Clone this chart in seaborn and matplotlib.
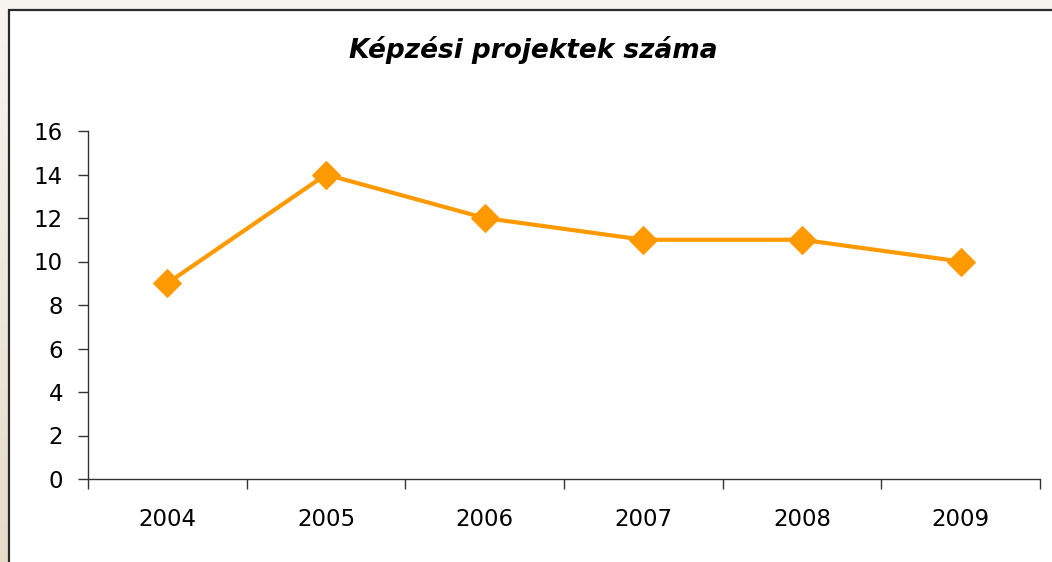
import matplotlib.pyplot as plt
import numpy as np
import pandas as pd
import seaborn as sns
from matplotlib.patches import Rectangle

# Data
years = ['2004', '2005', '2006', '2007', '2008', '2009']
projects = [9, 14, 12, 11, 11, 10]
title = 'Képzési projektek száma'

df = pd.DataFrame({'pos': np.arange(len(years)), 'value': projects})

sns.set_style('white')
plt.rcParams['font.family'] = ['DejaVu Sans']
plt.rcParams['text.color'] = 'black'
plt.rcParams['xtick.color'] = 'black'
plt.rcParams['ytick.color'] = 'black'

fig = plt.figure(figsize=(10.52, 5.62), dpi=100)

# background gradient strip + white chart frame
bg = fig.add_axes([0, 0, 1, 1], zorder=-10)
grad = np.linspace(0, 1, 256).reshape(-1, 1)
top_c = np.array([0.97, 0.96, 0.945])
bot_c = np.array([0.90, 0.86, 0.79])
img = top_c + (bot_c - top_c) * grad[:, :, None]
bg.imshow(img, aspect='auto', extent=[0, 1, 0, 1], origin='upper')
bg.add_patch(Rectangle((9 / 1052, -0.05), 1.1, 1 - 10 / 562 + 0.05,
                       facecolor='white', edgecolor='#2b2b2b', linewidth=1.6))
bg.set_xlim(0, 1)
bg.set_ylim(0, 1)
bg.axis('off')

ax = fig.add_axes([88 / 1052, 1 - 479 / 562, (1040 - 88) / 1052, (479 - 131) / 562])
ax.set_facecolor('none')

sns.lineplot(data=df, x='pos', y='value', ax=ax, color='#FF9900', linewidth=3,
             marker='D', markersize=14, markeredgecolor='#FF9900')

ax.set_xlim(-0.5, len(years) - 0.5)
ax.set_ylim(0, 16)
ax.set_yticks(range(0, 17, 2))
ax.set_xticks(np.arange(len(years) + 1) - 0.5)
ax.set_xticklabels([])
ax.set_xticks(np.arange(len(years)), minor=True)
ax.set_xticklabels(years, minor=True)
ax.set_xlabel('')
ax.set_ylabel('')

ax.tick_params(axis='x', which='major', direction='out', length=7, width=1, color='#333333', bottom=True)
ax.tick_params(axis='x', which='minor', length=0, pad=21, labelsize=16.5, labelcolor='black')
ax.tick_params(axis='y', direction='out', length=7, width=1, color='#333333', left=True, pad=11,
               labelsize=16.5, labelcolor='black')

for s in ['top', 'right']:
    ax.spines[s].set_visible(False)
for s in ['left', 'bottom']:
    ax.spines[s].set_color('#333333')
    ax.spines[s].set_linewidth(1)

fig.text(533 / 1052, 1 - 50 / 562, title, ha='center', va='center', color='black',
         fontsize=19, fontweight='bold', fontstyle='italic')

fig.savefig('out.png', dpi=100)
